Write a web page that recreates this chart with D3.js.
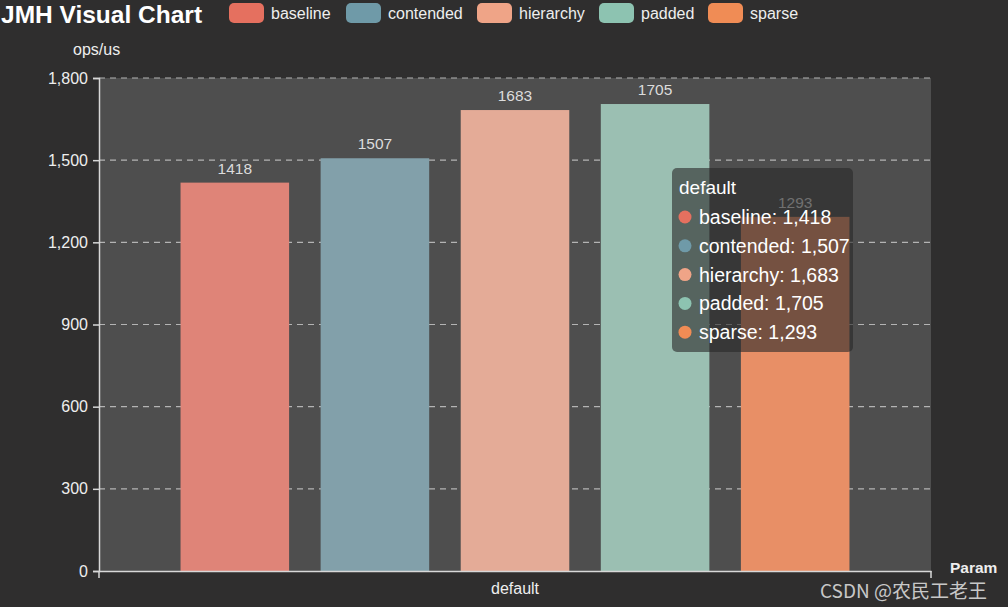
<!DOCTYPE html>
<html><head><meta charset="utf-8">
<script src="https://cdn.jsdelivr.net/npm/d3@7"></script>
<style>
html,body{margin:0;padding:0;background:#2f2e2e;}
svg{display:block;font-family:"Liberation Sans",Arial,Helvetica,sans-serif;}
</style></head>
<body>
<svg id="c" width="1008" height="607"></svg>
<script>
const categories = ["default"];
const seriesNames = ["baseline","contended","hierarchy","padded","sparse"];
const seriesValues = [1418, 1507, 1683, 1705, 1293];
const yTicks = [0, 300, 600, 900, 1200, 1500, 1800];
const barColors = ["#df8478","#82a0aa","#e4ab97","#9bbfb2","#e88f66"];
const legendColors = ["#e5705f","#6f9aa8","#efa487","#8dc3b1","#f08c55"];

const svg = d3.select("#c");
const W = 1008, H = 607;
const m = {left: 99, right: 931, top: 78, bottom: 571};

svg.append("rect").attr("width", W).attr("height", H).attr("fill", "#2f2e2e");

const x0 = d3.scaleBand().domain(categories).range([m.left, m.right]);
const x1 = d3.scaleBand().domain(seriesNames).range([x0.bandwidth()*0.098, x0.bandwidth()*0.902]).paddingInner(0.225);
const y = d3.scaleLinear().domain([0, 1800]).range([m.bottom, m.top]);
const color = d3.scaleOrdinal().domain(seriesNames).range(barColors);
const lcolor = d3.scaleOrdinal().domain(seriesNames).range(legendColors);

// plot background
svg.append("rect").attr("x", m.left).attr("y", m.top)
  .attr("width", m.right - m.left).attr("height", m.bottom - m.top).attr("fill", "#4e4e4e");

// grid
svg.append("g").selectAll("line").data(yTicks.filter(d => d > 0)).join("line")
  .attr("x1", m.left).attr("x2", m.right)
  .attr("y1", d => y(d)).attr("y2", d => y(d))
  .attr("stroke", "#b4b4b4").attr("stroke-width", 1.2).attr("stroke-dasharray", "6,5");

// bars
const data = seriesNames.map((s, i) => ({s, v: seriesValues[i], c: categories[0]}));
const g = svg.append("g");
g.selectAll("rect").data(data).join("rect")
  .attr("x", d => x0(d.c) + x1(d.s)).attr("width", x1.bandwidth())
  .attr("y", d => y(d.v)).attr("height", d => y(0) - y(d.v))
  .attr("fill", d => color(d.s));
g.selectAll("text").data(data).join("text")
  .attr("x", d => x0(d.c) + x1(d.s) + x1.bandwidth()/2)
  .attr("y", d => y(d.v) - 9)
  .attr("text-anchor", "middle").attr("fill", "#dcdcdc").attr("font-size", 15.5)
  .text(d => d.v);

// y axis
const yAxis = d3.axisLeft(y).tickValues(yTicks).tickSize(6).tickPadding(5).tickFormat(d3.format(","));
const ya = svg.append("g").attr("transform", `translate(${m.left},0)`).call(yAxis);
ya.select(".domain").attr("stroke", "#d8d8d8").attr("stroke-width", 1.5);
ya.selectAll(".tick line").attr("stroke", "#d8d8d8").attr("stroke-width", 1.5);
ya.selectAll(".tick text").attr("fill", "#eeeeee").attr("font-size", 16).attr("font-family", "Liberation Sans, Arial, sans-serif");

// x axis
const xAxis = d3.axisBottom(x0).tickSize(0).tickPadding(12);
const xa = svg.append("g").attr("transform", `translate(0,${m.bottom})`).call(xAxis);
xa.select(".domain").attr("stroke", "#d8d8d8").attr("stroke-width", 1.5);
xa.selectAll(".tick text").attr("fill", "#eeeeee").attr("font-size", 16).attr("font-family", "Liberation Sans, Arial, sans-serif");
svg.append("g").selectAll("line").data([m.left, m.right]).join("line")
  .attr("x1", d => d).attr("x2", d => d).attr("y1", m.bottom).attr("y2", m.bottom + 7)
  .attr("stroke", "#d8d8d8").attr("stroke-width", 1.5);

// axis names
svg.append("text").attr("x", 73).attr("y", 55).attr("fill", "#eeeeee").attr("font-size", 16).text("ops/us");
svg.append("text").attr("x", 950).attr("y", 573).attr("fill", "#eeeeee").attr("font-size", 15.5).attr("font-weight", "bold").text("Param");

// title
svg.append("text").attr("x", 1).attr("y", 23).attr("fill", "#ffffff").attr("font-size", 24.5)
  .attr("font-weight", "bold").text("JMH Visual Chart");

// legend
const legX = [229, 346, 477, 599, 708];
const leg = svg.append("g").selectAll("g").data(seriesNames).join("g")
  .attr("transform", (d, i) => `translate(${legX[i]},3)`);
leg.append("rect").attr("width", 35).attr("height", 20).attr("rx", 5).attr("fill", d => lcolor(d));
leg.append("text").attr("x", 42).attr("y", 16).attr("fill", "#eeeeee").attr("font-size", 16).text(d => d);

// tooltip
const tt = svg.append("g").attr("transform", "translate(672,168)");
tt.append("rect").attr("width", 181).attr("height", 184).attr("rx", 5)
  .attr("fill", "rgba(40,40,40,0.6)");
tt.append("text").attr("x", 7).attr("y", 26).attr("fill", "#ffffff").attr("font-size", 19).text(categories[0]);
const items = tt.selectAll("g.it").data(data).join("g").attr("class", "it")
  .attr("transform", (d, i) => `translate(0,${49 + i*28.8})`);
items.append("circle").attr("cx", 13).attr("cy", 0).attr("r", 6.5).attr("fill", d => lcolor(d.s));
items.append("text").attr("x", 27).attr("y", 7).attr("fill", "#ffffff").attr("font-size", 19.5)
  .text(d => `${d.s}: ${d3.format(",")(d.v)}`);

// watermark
svg.append("text").attr("x", 820).attr("y", 598).attr("fill", "#c8c8c8").attr("font-size", 19)
  .attr("font-family", "Noto Sans CJK SC, Liberation Sans, sans-serif").text("CSDN @农民工老王");
</script>
</body></html>
